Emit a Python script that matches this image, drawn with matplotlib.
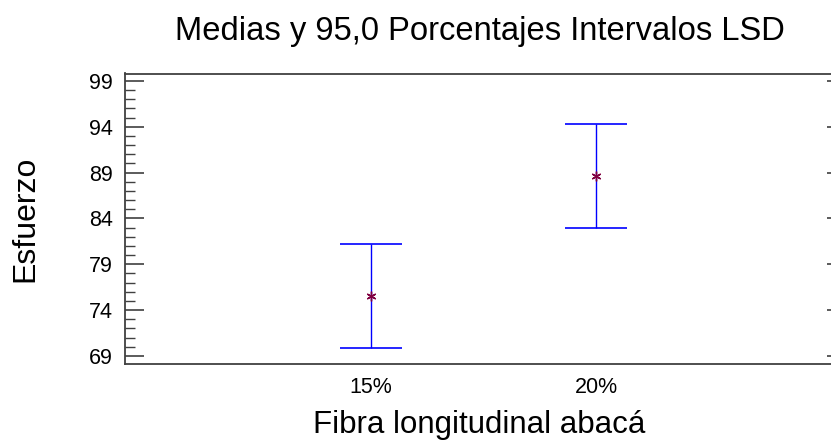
import numpy as np
import matplotlib
matplotlib.use("Agg")
import matplotlib.pyplot as plt
from matplotlib.ticker import MultipleLocator, FixedLocator

# Medias y limites LSD
niveles = ["15%", "20%"]
medias = [75.5, 88.6]
limite_inf = [69.84, 82.96]
limite_sup = [81.22, 94.24]
y_ticks = [69, 74, 79, 84, 89, 94, 99]

plt.rcParams['font.family'] = ['Liberation Sans', 'DejaVu Sans']
gris = '#404040'

fig = plt.figure(figsize=(8.31, 4.41), dpi=100)
# el borde derecho queda justo fuera de la imagen
ax = fig.add_axes([125 / 831, 1 - 363.5 / 441, 709 / 831, 290 / 441])

x = np.arange(1, len(niveles) + 1)
medias = np.array(medias)
err = [medias - np.array(limite_inf), np.array(limite_sup) - medias]
ax.errorbar(x, medias, yerr=err, fmt='none', ecolor='#0000ff', elinewidth=1,
            capsize=22, capthick=1.2)
ax.plot(x, medias, linestyle='none', marker=(6, 2, 0), color='#800040',
        markersize=7, markeredgewidth=1)

ax.set_xlim(-0.093, 3.058)
ax.set_ylim(68.17, 99.8)
ax.set_xticks(x)
ax.set_xticklabels(niveles)
ax.yaxis.set_major_locator(FixedLocator(y_ticks))
ax.yaxis.set_minor_locator(MultipleLocator(1))

ax.tick_params(axis='x', length=0, labelsize=15.5, pad=10, colors='black')
ax.tick_params(axis='y', which='major', direction='in', length=14, width=1.2,
               color=gris, labelsize=15.5, left=True, right=False, pad=9)
ax.tick_params(axis='y', which='minor', direction='in', length=7, width=1,
               color=gris, left=True, right=False)

# marcas cortas a la derecha
der = ax.secondary_yaxis('right')
der.yaxis.set_major_locator(FixedLocator(y_ticks))
der.tick_params(direction='in', length=5, width=1.2, color=gris,
                labelright=False)
der.spines['right'].set_visible(False)

for s in ax.spines.values():
    s.set_color(gris)
    s.set_linewidth(1.3)

ax.set_title("Medias y 95,0 Porcentajes Intervalos LSD", fontsize=23.6, pad=24)
ax.set_ylabel("Esfuerzo", fontsize=23, labelpad=35)
# etiqueta del eje x con la base de la linea fija cerca del borde inferior
fig.text(0.5 * (125 + 834) / 831, 1 - 432.5 / 441, "Fibra longitudinal abacá",
         fontsize=22.5, ha='center', va='baseline')

fig.savefig("out.png", dpi=100)
